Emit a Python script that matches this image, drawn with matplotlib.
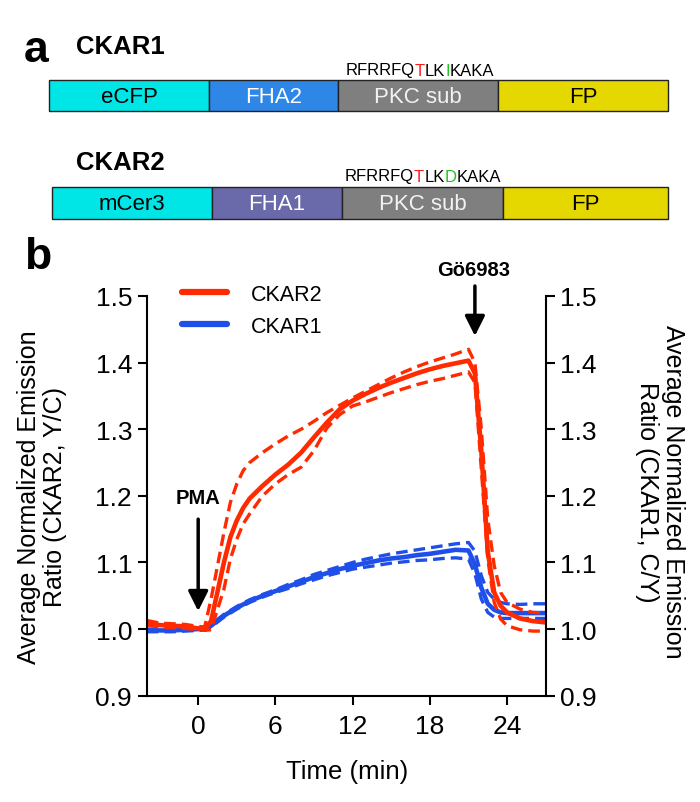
import matplotlib
matplotlib.use("Agg")
import matplotlib.pyplot as plt
from matplotlib.patches import Rectangle
from matplotlib.lines import Line2D

plt.rcParams['font.family'] = ['Liberation Sans', 'DejaVu Sans']

# ---------------- data ----------------
time_min = [-4, -3, -2, -1, 0, 0.5, 1, 2, 2.5, 3, 3.5, 4, 5, 6, 7, 8, 9, 10, 11, 12, 13, 14,
            15, 16, 17, 18, 19, 20, 21, 21.5, 22, 22.5, 23, 23.5, 24, 25, 26, 27]

ckar2_mean = [1.010, 1.006, 1.005, 1.004, 1.001, 1.000, 1.012, 1.100, 1.138, 1.163, 1.182,
              1.196, 1.215, 1.232, 1.247, 1.265, 1.288, 1.310, 1.330, 1.343, 1.353, 1.362,
              1.370, 1.377, 1.384, 1.390, 1.395, 1.399, 1.403, 1.384, 1.267, 1.116, 1.055,
              1.035, 1.025, 1.016, 1.012, 1.010]
ckar2_upper = [1.013, 1.009, 1.008, 1.007, 1.004, 1.003, 1.045, 1.145, 1.190, 1.218, 1.238,
               1.250, 1.265, 1.278, 1.290, 1.300, 1.312, 1.325, 1.336, 1.347, 1.357, 1.367,
               1.377, 1.386, 1.394, 1.401, 1.407, 1.413, 1.420, 1.400, 1.300, 1.165, 1.095,
               1.055, 1.040, 1.030, 1.025, 1.024]
ckar2_lower = [1.006, 1.003, 1.002, 1.001, 0.999, 0.998, 0.999, 1.060, 1.105, 1.135, 1.158,
               1.173, 1.200, 1.218, 1.232, 1.243, 1.268, 1.302, 1.322, 1.335, 1.341, 1.348,
               1.355, 1.361, 1.367, 1.372, 1.376, 1.381, 1.386, 1.370, 1.240, 1.105, 1.040,
               1.015, 1.005, 0.999, 0.997, 0.997]

ckar1_mean = [0.998, 0.998, 0.998, 0.999, 1.000, 1.001, 1.005, 1.020, 1.026, 1.032, 1.037,
              1.042, 1.050, 1.057, 1.064, 1.071, 1.078, 1.084, 1.090, 1.095, 1.099, 1.103,
              1.106, 1.108, 1.111, 1.113, 1.116, 1.119, 1.118, 1.097, 1.062, 1.038, 1.029,
              1.025, 1.024, 1.024, 1.024, 1.024]
ckar1_upper = [1.000, 1.000, 1.000, 1.001, 1.002, 1.003, 1.007, 1.022, 1.028, 1.034, 1.039,
               1.044, 1.052, 1.059, 1.067, 1.074, 1.082, 1.088, 1.094, 1.100, 1.105, 1.109,
               1.113, 1.116, 1.119, 1.122, 1.125, 1.128, 1.130, 1.117, 1.080, 1.055, 1.045,
               1.040, 1.038, 1.037, 1.038, 1.038]
ckar1_lower = [0.996, 0.996, 0.996, 0.997, 0.998, 0.999, 1.003, 1.018, 1.024, 1.030, 1.035,
               1.040, 1.048, 1.055, 1.061, 1.068, 1.074, 1.080, 1.085, 1.090, 1.093, 1.096,
               1.099, 1.101, 1.103, 1.104, 1.106, 1.107, 1.105, 1.083, 1.045, 1.025, 1.018,
               1.016, 1.016, 1.016, 1.016, 1.016]

x_ticks = [0, 6, 12, 18, 24]
y_ticks = [0.9, 1.0, 1.1, 1.2, 1.3, 1.4, 1.5]

ckar1_domains = ["eCFP", "FHA2", "PKC sub", "FP"]
ckar2_domains = ["mCer3", "FHA1", "PKC sub", "FP"]
ckar1_seq = [("RFRRFQ", "black"), ("T", "#FF1A1A"), ("LK", "black"), ("I", "#22C322"), ("KAKA", "black")]
ckar2_seq = [("RFRRFQ", "black"), ("T", "#FF1A1A"), ("LK", "black"), ("D", "#22C322"), ("KAKA", "black")]

# ---------------- styles / layout ----------------
RED = "#FF2A00"
BLUE = "#1F4FE8"
dom_colors1 = ["#00E5E5", "#2E86E6", "#7F7F7F", "#E5D700"]
dom_colors2 = ["#00E5E5", "#6A6AAB", "#7F7F7F", "#E5D700"]
dom_text1 = ["black", "white", "#F2F2F2", "black"]
dom_text2 = ["black", "white", "#F2F2F2", "black"]
edges1 = [49, 209, 338, 498, 668]
edges2 = [52, 212, 342, 503, 668]

W, H = 700, 803
fig = plt.figure(figsize=(W / 100, H / 100), dpi=100)

# ---- panel a (drawn in pixel coordinates) ----
axa = fig.add_axes([0, 0, 1, 1])
axa.set_xlim(0, W)
axa.set_ylim(H, 0)
axa.axis("off")


def draw_construct(edges, y0, y1, names, colors, tcolors):
    for i, name in enumerate(names):
        axa.add_patch(Rectangle((edges[i], y0), edges[i + 1] - edges[i], y1 - y0,
                                facecolor=colors[i], edgecolor="#222222", lw=1.0))
        axa.text((edges[i] + edges[i + 1]) / 2, (y0 + y1) / 2 + 1, name, ha="center",
                 va="center", fontsize=16, color=tcolors[i])


def draw_seq(pieces, xc, yc, fs=12):
    fig.canvas.draw()
    r = fig.canvas.get_renderer()
    widths = []
    txts = []
    for s, c in pieces:
        t = axa.text(0, yc, s, fontsize=fs, color=c, ha="left", va="center")
        bb = t.get_window_extent(renderer=r)
        widths.append(bb.width)
        txts.append(t)
    total = sum(widths)
    x = xc - total / 2
    for t, w in zip(txts, widths):
        t.set_x(x)
        x += w


axa.text(24, 50, "a", fontsize=32, fontweight="bold", ha="left", va="center")
axa.text(76, 47, "CKAR1", fontsize=18.5, fontweight="bold", ha="left", va="center")
axa.text(76, 163, "CKAR2", fontsize=18.5, fontweight="bold", ha="left", va="center")
axa.text(24, 258, "b", fontsize=32, fontweight="bold", ha="left", va="center")
draw_construct(edges1, 81, 112, ckar1_domains, dom_colors1, dom_text1)
draw_construct(edges2, 188, 220, ckar2_domains, dom_colors2, dom_text2)
draw_seq(ckar1_seq, 420, 71)
draw_seq(ckar2_seq, 423, 177)

# ---- panel b ----
ax = fig.add_axes([146.7 / W, 106.3 / H, 399 / W, 399.7 / H])
ax.set_xlim(-4, 27)
ax.set_ylim(0.9, 1.5)

lw_solid, lw_dash = 3.3, 2.4
dash = (3.5, 1.8)
for m, u, l, c in [(ckar1_mean, ckar1_upper, ckar1_lower, BLUE),
                   (ckar2_mean, ckar2_upper, ckar2_lower, RED)]:
    ax.plot(time_min, u, color=c, lw=lw_dash, dashes=dash, solid_joinstyle="round")
    ax.plot(time_min, l, color=c, lw=lw_dash, dashes=dash, solid_joinstyle="round")
    ax.plot(time_min, m, color=c, lw=lw_solid, solid_joinstyle="round")

ax.spines["top"].set_visible(False)
for s in ["left", "right", "bottom"]:
    ax.spines[s].set_linewidth(1.5)
ax.set_xticks(x_ticks)
ax.set_yticks(y_ticks)
ax.set_yticklabels([f"{v:.1f}" for v in y_ticks])
ax.tick_params(axis="both", direction="out", length=6.5, width=1.5, labelsize=19, pad=4)
ax.tick_params(axis="y", right=True, labelright=True)
ax.tick_params(axis="x", pad=7)

# arrows and annotations
arrow_kw = dict(arrowstyle="-|>", lw=2.5, color="black", mutation_scale=30,
                shrinkA=0, shrinkB=0)
ax.annotate("", xy=(0, 1.027), xytext=(0, 1.165), arrowprops=arrow_kw)
ax.text(0, 1.198, "PMA", ha="center", va="center", fontsize=14.5, fontweight="bold")
ax.annotate("", xy=(21.5, 1.44), xytext=(21.5, 1.515), arrowprops=arrow_kw,
            annotation_clip=False)
ax.text(21.4, 1.54, "Gö6983", ha="center", va="center", fontsize=14.5,
        fontweight="bold", clip_on=False)

handles = [Line2D([], [], color=RED, lw=4.5, solid_capstyle="round"),
           Line2D([], [], color=BLUE, lw=4.5, solid_capstyle="round")]
ax.legend(handles, ["CKAR2", "CKAR1"], loc="upper left", bbox_to_anchor=(0.088, 1.03),
          frameon=False, fontsize=15.5, handlelength=2.1, handletextpad=1.1,
          labelspacing=0.5, borderpad=0, borderaxespad=0)

fig.text(42 / W, 1 - 497 / H, "Average Normalized Emission\nRatio (CKAR2, Y/C)",
         rotation=90, ha="center", va="center", multialignment="center", fontsize=18,
         linespacing=1.1)
fig.text(660 / W, 1 - 492 / H, "Average Normalized Emission\nRatio (CKAR1, C/Y)",
         rotation=270, ha="center", va="center", multialignment="center", fontsize=18,
         linespacing=1.1)
fig.text(347 / W, 1 - 772 / H, "Time (min)", ha="center", va="center", fontsize=18.5)

fig.savefig("out.png", dpi=100)
